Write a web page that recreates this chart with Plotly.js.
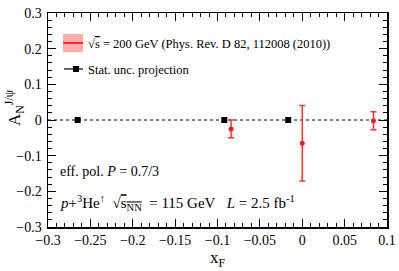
<!DOCTYPE html>
<html>
<head>
<meta charset="utf-8">
<script src="https://cdn.plot.ly/plotly-3.0.1.min.js"></script>
<style>html,body{margin:0;padding:0;background:#fff;}#plot{width:399px;height:271px;}</style>
</head>
<body>
<div id="plot"></div>
<script>
// Data: published 200 GeV measurement (red)
const measX = [-0.084, 0.0, 0.084];
const measY = [-0.025, -0.065, -0.002];
const measErr = [0.025, 0.106, 0.025];
// Stat. unc. projection (black)
const projX = [-0.265, -0.092, -0.0165];
const projY = [0, 0, 0];
const projErr = [0.003, 0.003, 0.003];

const xTicks = [-0.3, -0.25, -0.2, -0.15, -0.1, -0.05, 0, 0.05, 0.1];
const yTicks = [-0.3, -0.2, -0.1, 0, 0.1, 0.2, 0.3];

const serif = "Liberation Serif";
const L = 48, R = 387, T = 13, B = 227;
const px = p => (p - L) / (R - L);
const py = p => (B - p) / (B - T);

const traces = [
  {
    x: projX, y: projY, type: 'scatter', mode: 'markers',
    marker: {symbol: 'square', size: 6, color: 'black'},
    error_y: {type: 'data', array: projErr, color: 'black', thickness: 1, width: 0},
    showlegend: false, hoverinfo: 'skip'
  },
  {
    x: measX, y: measY, type: 'scatter', mode: 'markers',
    marker: {symbol: 'circle', size: 5, color: '#ff1a1a'},
    error_y: {type: 'data', array: measErr, color: '#ff3333', thickness: 1.5, width: 3},
    showlegend: false, hoverinfo: 'skip'
  }
];

const axisCommon = {
  showgrid: false, zeroline: false, showline: true, linecolor: 'black', linewidth: 1.5,
  mirror: 'ticks', ticks: 'inside', ticklen: 8, tickwidth: 1, tickcolor: 'black',
  tickfont: {family: serif, size: 14, color: 'black'},
};

const layout = {
  width: 399, height: 271,
  font: {family: serif, color: 'black'},
  margin: {l: L, r: 399 - R, t: T, b: 271 - B},
  paper_bgcolor: 'white', plot_bgcolor: 'white',
  xaxis: Object.assign({}, axisCommon, {
    range: [-0.3, 0.1], tickvals: xTicks, ticktext: xTicks.map(v => v === 0 ? '0' : String(v).replace('-', '−')),
    minor: {dtick: 0.01, ticklen: 4, tickcolor: 'black', ticks: 'inside'},
    title: {text: 'x<sub>F</sub>', font: {family: serif, size: 17, color: 'black'}, standoff: 4}
  }),
  yaxis: Object.assign({}, axisCommon, {
    range: [-0.3, 0.3], tickvals: yTicks, ticktext: yTicks.map(v => v === 0 ? '0' : String(v).replace('-', '−')),
    minor: {dtick: 0.02, ticklen: 4, tickcolor: 'black', ticks: 'inside'},
    ticklabelstandoff: 2
  }),
  shapes: [
    {type: 'line', xref: 'paper', yref: 'y', x0: 0, x1: 1, y0: 0, y1: 0,
     line: {color: 'black', width: 1, dash: 'dot'}, layer: 'below'},
    // legend symbol: band
    {type: 'rect', xref: 'paper', yref: 'paper', x0: px(63), x1: px(83), y0: py(52), y1: py(34),
     fillcolor: 'rgba(255,120,120,0.6)', line: {width: 0}},
    {type: 'line', xref: 'paper', yref: 'paper', x0: px(63), x1: px(83), y0: py(43), y1: py(43),
     line: {color: '#ff0000', width: 1.5}},
    // legend symbol: projection
    {type: 'line', xref: 'paper', yref: 'paper', x0: px(64), x1: px(83), y0: py(69), y1: py(69),
     line: {color: 'black', width: 1.2}},
    {type: 'rect', xref: 'paper', yref: 'paper', x0: px(73), x1: px(79), y0: py(72), y1: py(66),
     fillcolor: 'black', line: {width: 0}}
  ],
  annotations: [
    {xref: 'paper', yref: 'paper', x: px(86), y: py(44), xanchor: 'left', yanchor: 'middle', showarrow: false,
     text: '√<span style="text-decoration:overline">s</span> = 200 GeV (Phys. Rev. D 82, 112008 (2010))',
     font: {family: serif, size: 12.5, color: 'black'}},
    {xref: 'paper', yref: 'paper', x: px(86), y: py(70), xanchor: 'left', yanchor: 'middle', showarrow: false,
     text: 'Stat. unc. projection', font: {family: serif, size: 12.5, color: 'black'}},
    {xref: 'paper', yref: 'paper', x: px(58), y: py(171), xanchor: 'left', yanchor: 'middle', showarrow: false,
     text: 'eff. pol. <i>P</i> = 0.7/3', font: {family: serif, size: 14, color: 'black'}},
    {xref: 'paper', yref: 'paper', x: px(58), y: py(203), xanchor: 'left', yanchor: 'middle', showarrow: false,
     text: '<i>p</i>+<sup>3</sup>He<sup>↑</sup>&nbsp; √<span style="text-decoration:overline">s<sub>NN</sub></span>&nbsp; = 115 GeV&nbsp;&nbsp; <i>L</i> = 2.5 fb<sup>-1</sup>',
     font: {family: serif, size: 15, color: 'black'}},
    {xref: 'paper', yref: 'paper', x: px(14), y: py(108), xanchor: 'center', yanchor: 'middle', showarrow: false,
     textangle: -90, text: 'A<sub>N</sub><sup>J/ψ</sup>', font: {family: serif, size: 17, color: 'black'}}
  ]
};

Plotly.newPlot('plot', traces, layout, {staticPlot: true, displayModeBar: false});
</script>
</body>
</html>
